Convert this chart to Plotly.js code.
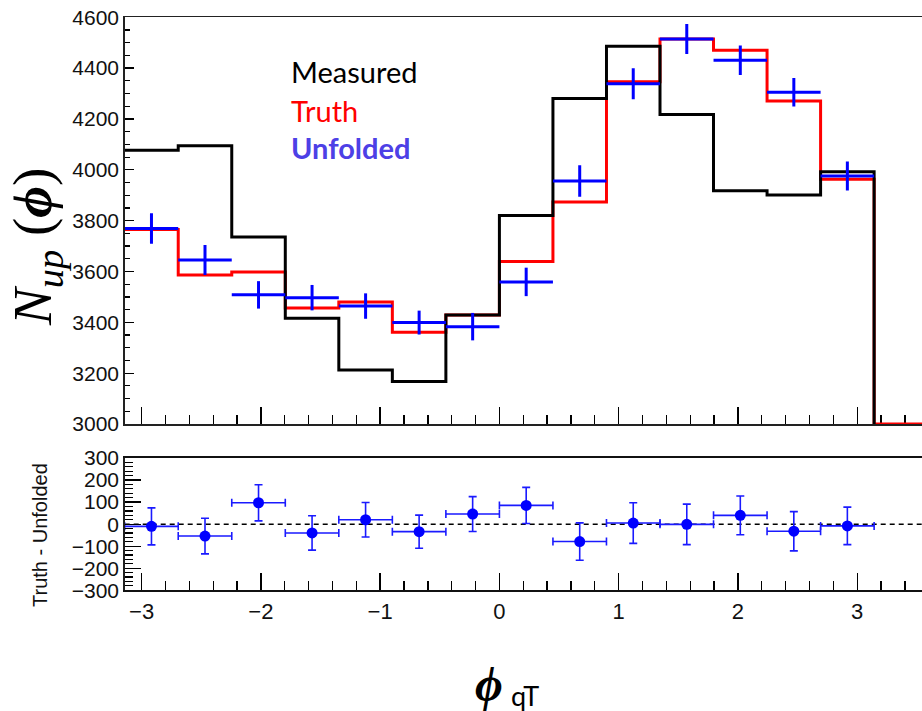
<!DOCTYPE html>
<html>
<head>
<meta charset="utf-8">
<script src="https://cdn.plot.ly/plotly-3.0.1.min.js"></script>
<style>html,body{margin:0;padding:0;background:#fff;}#chart{width:922px;height:711px;}</style>
</head>
<body>
<div id="chart"></div>
<script>
// ---- data ----
const nBins = 14;
const phiLow = -Math.PI;
const phiHigh = Math.PI;
const xRange = [-Math.PI, 3.543];
const topRange = [3000, 4600];
const botRange = [-300, 300];

const measured = [4077, 4095, 3736, 3416, 3212, 3167, 3429, 3820, 4281, 4486, 4218, 3918, 3901, 3992];
const truth    = [3765, 3586, 3598, 3456, 3480, 3361, 3429, 3639, 3873, 4346, 4515, 4470, 4271, 3963];
const unfolded = [3769, 3645, 3508, 3497, 3464, 3399, 3383, 3559, 3956, 4339, 4515, 4431, 4305, 3976];
const unfoldedErr = [60, 59, 54, 50, 50, 47, 54, 56, 62, 61, 59, 58, 56, 57];
const diff    = [-10, -54, 97, -40, 20, -34, 46, 85, -79, 5, -1, 40, -32, -8];
const diffErr = [84, 81, 82, 78, 78, 75, 79, 82, 85, 92, 92, 88, 89, 85];

const legendNames = ["Measured", "Truth", "Unfolded"];
const yTitle = "<i>N</i><sub><i>up</i></sub> (<b><i>ϕ</i></b>)";
const xTitleMain = "<b><i>ϕ</i></b>";
const xTitleSub = "qT";
const ratioTitle = "Truth - Unfolded";

// ---- derived binning ----
const binW = (phiHigh - phiLow) / nBins;
const edges = [];
for (let k = 0; k <= nBins; k++) edges.push(phiLow + k * binW);
const centers = edges.slice(0, nBins).map(e => e + binW / 2);

function stepXY(vals, tailToEdge) {
  const x = edges.slice();
  const y = vals.concat([vals[vals.length - 1]]);
  x.push(phiHigh); y.push(topRange[0]);
  if (tailToEdge) { x.push(xRange[1]); y.push(topRange[0]); }
  return {x, y};
}

const sT = stepXY(truth, true);
const sM = stepXY(measured, false);

const traces = [
  {type: 'scatter', mode: 'lines', x: sT.x, y: sT.y, line: {shape: 'hv', color: '#ff0000', width: 3},
   xaxis: 'x', yaxis: 'y', hoverinfo: 'skip', showlegend: false},
  {type: 'scatter', mode: 'lines', x: sM.x, y: sM.y, line: {shape: 'hv', color: '#000000', width: 3},
   xaxis: 'x', yaxis: 'y', hoverinfo: 'skip', showlegend: false},
  {type: 'scatter', mode: 'markers', x: centers, y: unfolded, marker: {size: 1, color: '#0000ff'},
   error_y: {type: 'data', array: unfoldedErr, visible: true, color: '#0000ff', thickness: 3, width: 0},
   error_x: {type: 'constant', value: binW / 2, visible: true, color: '#0000ff', thickness: 3, width: 0},
   xaxis: 'x', yaxis: 'y', hoverinfo: 'skip', showlegend: false},
  {type: 'scatter', mode: 'markers', x: centers, y: diff, marker: {size: 11, color: '#0000ff'},
   error_y: {type: 'data', array: diffErr, visible: true, color: '#1a1aff', thickness: 1.6, width: 4},
   error_x: {type: 'constant', value: binW / 2, visible: true, color: '#1a1aff', thickness: 1.6, width: 4},
   xaxis: 'x2', yaxis: 'y2', hoverinfo: 'skip', showlegend: false}
];

const W = 922, H = 711;
const plotLeft = 124.7;
const px = v => v / W;
const py = v => 1 - v / H;

const sansFam = 'Liberation Sans, Arial, sans-serif';

const layout = {
  width: W, height: H,
  margin: {l: 0, r: 0, t: 0, b: 0},
  paper_bgcolor: '#ffffff', plot_bgcolor: '#ffffff',
  showlegend: false,
  xaxis: {
    domain: [px(plotLeft), 1], range: xRange, anchor: 'y',
    showticklabels: false, showgrid: false, zeroline: false,
    ticks: 'inside', ticklen: 17, tickwidth: 1.3, tickcolor: '#000', tick0: 0, dtick: 1,
    minor: {ticks: 'inside', ticklen: 9, tickwidth: 1.3, tickcolor: '#000', dtick: 0.2, tick0: 0, showgrid: false},
    showline: true, mirror: true, linecolor: '#222', linewidth: 1.6, layer: 'below traces'
  },
  yaxis: {
    domain: [py(424), py(17.3)], range: topRange, anchor: 'x',
    showgrid: false, zeroline: false,
    ticks: 'inside', ticklen: 9, tickwidth: 1.3, tickcolor: '#000', dtick: 200, tick0: 0,
    minor: {ticks: 'inside', ticklen: 5, tickwidth: 1.2, tickcolor: '#000', dtick: 50, showgrid: false},
    showline: true, linecolor: '#222', linewidth: 1.5,
    tickfont: {family: sansFam, size: 21, color: '#111'}, tickformat: 'd'
  },
  xaxis2: {
    domain: [px(plotLeft), 1], range: xRange, anchor: 'y2',
    showgrid: false, zeroline: false,
    ticks: 'inside', ticklen: 17, tickwidth: 1.3, tickcolor: '#000', tick0: 0, dtick: 1,
    minor: {ticks: 'inside', ticklen: 9, tickwidth: 1.3, tickcolor: '#000', dtick: 0.2, tick0: 0, showgrid: false},
    showline: true, mirror: true, linecolor: '#111', linewidth: 2,
    tickfont: {family: sansFam, size: 22, color: '#111'}
  },
  yaxis2: {
    domain: [py(590.3), py(458)], range: botRange, anchor: 'x2',
    showgrid: false, zeroline: false,
    ticks: 'inside', ticklen: 16, tickwidth: 1.3, tickcolor: '#000', dtick: 100, tick0: 0,
    minor: {ticks: 'inside', ticklen: 8, tickwidth: 1.2, tickcolor: '#000', dtick: 20, showgrid: false},
    showline: true, linecolor: '#222', linewidth: 1.5,
    tickfont: {family: sansFam, size: 21, color: '#111'}
  },
  shapes: [
    {type: 'line', xref: 'x2 domain', yref: 'y2', x0: 0, x1: 1, y0: 0, y1: 0,
     line: {color: '#000', width: 1.5, dash: '5px,4px'}, layer: 'below'}
  ],
  annotations: [
    {text: legendNames[0], xref: 'paper', yref: 'paper', x: px(289), y: py(71), xanchor: 'left', yanchor: 'middle',
     showarrow: false, font: {family: 'Lato, Open Sans, sans-serif', size: 29, color: '#000'}},
    {text: legendNames[1], xref: 'paper', yref: 'paper', x: px(289), y: py(110), xanchor: 'left', yanchor: 'middle',
     showarrow: false, font: {family: 'Lato, Open Sans, sans-serif', size: 29, color: '#ff0000'}},
    {text: '<b>' + legendNames[2] + '</b>', xref: 'paper', yref: 'paper', x: px(289), y: py(148), xanchor: 'left', yanchor: 'middle',
     showarrow: false, font: {family: 'Lato, Open Sans, sans-serif', size: 29, color: '#4d40e6'}},
    {text: yTitle, xref: 'paper', yref: 'paper', x: px(36), y: py(247), xanchor: 'center', yanchor: 'middle',
     textangle: -90, showarrow: false, font: {family: 'Liberation Serif, Times New Roman, serif', size: 55, color: '#000'}},
    {text: ratioTitle, xref: 'paper', yref: 'paper', x: px(40), y: py(535), xanchor: 'center', yanchor: 'middle',
     textangle: -90, showarrow: false, font: {family: sansFam, size: 20, color: '#111'}},
    {text: xTitleMain, xref: 'paper', yref: 'paper', x: px(489), y: py(684), xanchor: 'center', yanchor: 'middle',
     showarrow: false, font: {family: 'Liberation Serif, Times New Roman, serif', size: 48, color: '#000'}},
    {text: xTitleSub, xref: 'paper', yref: 'paper', x: px(509), y: py(695), xanchor: 'left', yanchor: 'middle',
     showarrow: false, font: {family: 'Lato, Open Sans, sans-serif', size: 27, color: '#000'}}
  ]
};

Plotly.newPlot('chart', traces, layout, {staticPlot: true, displayModeBar: false});
</script>
</body>
</html>
